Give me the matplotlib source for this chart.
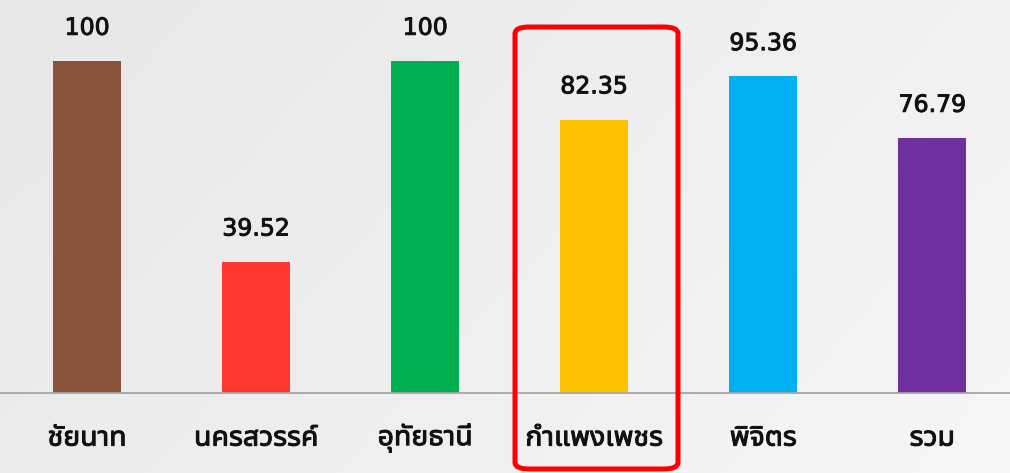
import numpy as np
import matplotlib
matplotlib.use("Agg")
import matplotlib.pyplot as plt
import matplotlib.patheffects as pe
from matplotlib.patches import FancyBboxPatch

provinces = ["ชัยนาท", "นครสวรรค์", "อุทัยธานี", "กำแพงเพชร", "พิจิตร", "รวม"]
values = [100, 39.52, 100, 82.35, 95.36, 76.79]
labels = ["100", "39.52", "100", "82.35", "95.36", "76.79"]
colors = ["#8A533B", "#FF3830", "#00B050", "#FFC000", "#00B0F0", "#7030A0"]

plt.rcParams['font.family'] = ['Noto Sans Thai UI', 'DejaVu Sans']

fig = plt.figure(figsize=(10.1, 4.73), dpi=100)

# soft grey gradient background
bg = fig.add_axes([0, 0, 1, 1], zorder=-10)
grad = np.linspace(0, 1, 256)[None, :] * 0.7 + np.linspace(0, 1, 64)[:, None] * 0.3
bg.imshow(grad, cmap=matplotlib.colors.LinearSegmentedColormap.from_list("g", ["#e7e7e7", "#f6f6f6"]),
          aspect="auto", extent=[0, 1, 0, 1], origin="upper")
bg.axis("off")

ax = fig.add_axes([0, 0.169, 1, 0.831])
ax.set_facecolor("none")
x = np.arange(len(provinces))
ax.bar(x, values, width=0.40, color=colors, zorder=2)
thick = [pe.withStroke(linewidth=0.7, foreground="#111111")]
for xi, v, lab in zip(x, values, labels):
    ax.annotate(lab, (xi, v), xytext=(0, 24), textcoords="offset points",
                ha="center", va="center", fontsize=17, color="#111111", path_effects=thick)

ax.set_xlim(-0.515, 5.46)
ax.set_ylim(0, 118.4)
ax.set_yticks([])
ax.set_xticks(x)
ax.set_xticklabels(provinces, fontsize=20.5, color="#111111", path_effects=thick)
ax.tick_params(axis="x", length=0, pad=22)
for s in ["top", "left", "right"]:
    ax.spines[s].set_visible(False)
ax.spines["bottom"].set_color("#a6a6a6")
ax.spines["bottom"].set_linewidth(1.3)

# red highlight box around กำแพงเพชร
box = FancyBboxPatch((515 / 1010, 4 / 473), 163 / 1010, 442 / 473,
                     boxstyle="round,pad=0,rounding_size=0.014", transform=fig.transFigure,
                     fill=False, edgecolor="#FF0000", linewidth=3.6, zorder=5)
fig.patches.append(box)

fig.savefig("out.png", dpi=100)
